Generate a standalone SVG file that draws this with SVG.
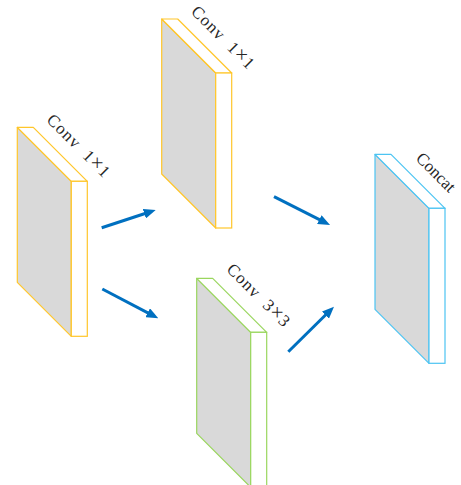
<svg xmlns="http://www.w3.org/2000/svg" width="461" height="485" viewBox="0 0 461 485">
  <style>
    .lbl { font-family: "Liberation Serif", "DejaVu Serif", serif; font-size: 17px; fill: #262626; letter-spacing: 1px; }
    .times { font-size: 20px; }
    .yellow { stroke: #FFC62A; }
    .green { stroke: #9AD65E; }
    .blue { stroke: #4CC4F2; }
    .arrow { stroke: #0070C0; stroke-width: 3; fill: none; marker-end: url(#head); }
  </style>
  <defs>
    <!-- one slab: gray front, white top and right side -->
    <path id="front" d="M0,0 L54,54 L54,209 L0,155 Z" fill="#D9D9D9" stroke-width="1.2" stroke-linejoin="round"/>
    <path id="top" d="M0,0 L16,0 L70,54 L54,54 Z" fill="#FFFFFF" stroke-width="1.2" stroke-linejoin="round"/>
    <rect id="side" x="54" y="54" width="16" height="155" fill="#FFFFFF" stroke-width="1.2"/>
    <marker id="head" viewBox="0 0 12 10" refX="4" refY="5" markerWidth="12" markerHeight="10" markerUnits="userSpaceOnUse" orient="auto">
      <path d="M0,0 L12,5 L0,10 Z" fill="#0070C0"/>
    </marker>
  </defs>

  <g id="conv1x1-in" class="yellow" transform="translate(17.3,127.3)">
    <use href="#front"/><use href="#top"/><use href="#side"/>
  </g>
  <text class="lbl" transform="translate(45.8,120.8) rotate(45)">Conv<tspan x="51">1</tspan><tspan class="times">×</tspan><tspan>1</tspan></text>

  <g id="conv1x1-top" class="yellow" transform="translate(161.7,19)">
    <use href="#front"/><use href="#top"/><use href="#side"/>
  </g>
  <text class="lbl" transform="translate(190.2,12.5) rotate(45)">Conv<tspan x="51">1</tspan><tspan class="times">×</tspan><tspan>1</tspan></text>

  <g id="conv3x3" class="green" transform="translate(196.7,278.3)">
    <use href="#front"/><use href="#top"/><use href="#side"/>
  </g>
  <text class="lbl" transform="translate(225.7,270.3) rotate(45)">Conv<tspan x="51">3</tspan><tspan class="times">×</tspan><tspan>3</tspan></text>

  <g id="concat" class="blue" transform="translate(375,154.3)">
    <use href="#front"/><use href="#top"/><use href="#side"/>
  </g>
  <text class="lbl" style="letter-spacing:0px" transform="translate(415,159.3) rotate(45)">Concat</text>

  <g id="connectors">
    <line class="arrow" x1="101.7" y1="227.7" x2="148.1" y2="212.5"/>
    <line class="arrow" x1="102.3" y1="289" x2="151.2" y2="314.6"/>
    <line class="arrow" x1="274" y1="196.7" x2="322.9" y2="221.4"/>
    <line class="arrow" x1="288.3" y1="351.7" x2="328.3" y2="312.3"/>
  </g>
</svg>
